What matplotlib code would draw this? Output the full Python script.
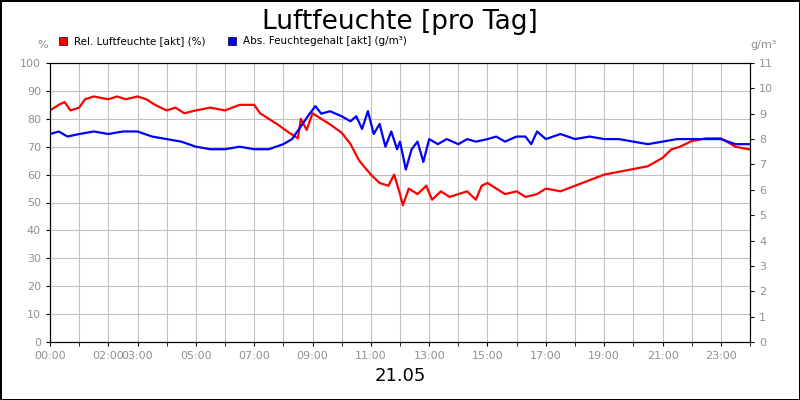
import matplotlib
matplotlib.use('Agg')
import matplotlib.pyplot as plt
from matplotlib.lines import Line2D

# relative Feuchte (%), Zeit in Stunden
rel_t = [0, 0.3, 0.5, 0.7, 1.0, 1.2, 1.5, 2, 2.3, 2.6, 3, 3.3, 3.6, 4, 4.3, 4.6, 5, 5.5, 6, 6.5, 7, 7.2,
         7.5, 7.8, 8.2, 8.5, 8.6, 8.8, 9, 9.3, 9.6, 10, 10.3, 10.6, 11, 11.3, 11.6, 11.8, 12, 12.1, 12.3,
         12.6, 12.9, 13.1, 13.4, 13.7, 14, 14.3, 14.6, 14.8, 15, 15.3, 15.6, 16, 16.3, 16.7, 17, 17.5,
         18, 18.5, 19, 19.5, 20, 20.5, 21, 21.3, 21.6, 22, 22.5, 23, 23.5, 24]
rel_v = [83, 85, 86, 83, 84, 87, 88, 87, 88, 87, 88, 87, 85, 83, 84, 82, 83, 84, 83, 85, 85, 82,
         80, 78, 75, 73, 80, 76, 82, 80, 78, 75, 71, 65, 60, 57, 56, 60, 53, 49, 55,
         53, 56, 51, 54, 52, 53, 54, 51, 56, 57, 55, 53, 54, 52, 53, 55, 54,
         56, 58, 60, 61, 62, 63, 66, 69, 70, 72, 73, 73, 70, 69]

# absoluter Feuchtegehalt (g/m³)
abs_t = [0, 0.3, 0.6, 1, 1.5, 2, 2.5, 3, 3.5, 4, 4.5, 5, 5.5, 6, 6.5, 7, 7.5, 8, 8.3, 8.6, 8.9, 9.1,
         9.3, 9.6, 10, 10.3, 10.5, 10.7, 10.9, 11.1, 11.3, 11.5, 11.7, 11.9, 12, 12.2, 12.4, 12.6, 12.8,
         13, 13.3, 13.6, 14, 14.3, 14.6, 15, 15.3, 15.6, 16, 16.3, 16.5, 16.7, 17, 17.5, 18, 18.5, 19,
         19.5, 20, 20.5, 21, 21.5, 22, 22.5, 23, 23.5, 24]
abs_v = [8.2, 8.3, 8.1, 8.2, 8.3, 8.2, 8.3, 8.3, 8.1, 8.0, 7.9, 7.7, 7.6, 7.6, 7.7, 7.6, 7.6, 7.8, 8.0, 8.5, 9.0, 9.3,
         9.0, 9.1, 8.9, 8.7, 8.9, 8.4, 9.1, 8.2, 8.6, 7.7, 8.3, 7.6, 7.9, 6.8, 7.6, 7.9, 7.1,
         8.0, 7.8, 8.0, 7.8, 8.0, 7.9, 8.0, 8.1, 7.9, 8.1, 8.1, 7.8, 8.3, 8.0, 8.2, 8.0, 8.1, 8.0,
         8.0, 7.9, 7.8, 7.9, 8.0, 8.0, 8.0, 8.0, 7.8, 7.8]

xtick_pos = [0, 2, 3, 5, 7, 9, 11, 13, 15, 17, 19, 21, 23]
xtick_lab = ['00:00', '02:00', '03:00', '05:00', '07:00', '09:00', '11:00', '13:00',
             '15:00', '17:00', '19:00', '21:00', '23:00']

fig = plt.figure(figsize=(8, 4), dpi=100)
fig.patch.set_edgecolor('black')
fig.patch.set_linewidth(2)
ax = fig.add_axes([0.0625, 0.145, 0.875, 0.6975])
ax2 = ax.twinx()

ax.plot(rel_t, rel_v, color='#ff0000', lw=1.6)
ax2.plot(abs_t, abs_v, color='#0000ff', lw=1.6)

ax.set_xlim(0, 24)
ax.set_ylim(0, 100)
ax2.set_ylim(0, 11)
ax.set_yticks(range(0, 101, 10))
ax2.set_yticks(range(0, 12))
ax.set_xticks(range(0, 25), minor=True)
ax.set_xticks(xtick_pos)
ax.set_xticklabels(xtick_lab)
ax.grid(True, which='both', axis='x', color='#c0c0c0', lw=0.8)
ax.grid(True, which='major', axis='y', color='#c0c0c0', lw=0.8)
ax.set_axisbelow(True)
for a in (ax, ax2):
    a.tick_params(labelsize=8, labelcolor='#909090', length=3)
ax.tick_params(axis='x', which='minor', length=3)

fig.text(0.5, 0.945, 'Luftfeuchte [pro Tag]', ha='center', va='center', fontsize=19)
fig.text(0.5, 0.06, '21.05', ha='center', va='center', fontsize=13)
fig.text(0.053, 0.88, '%', fontsize=8, color='#909090', ha='center')
fig.text(0.955, 0.88, 'g/m³', fontsize=8, color='#909090', ha='center')

handles = [Line2D([], [], ls='', marker='s', color='#ff0000', mec='black', mew=0.5, ms=6),
           Line2D([], [], ls='', marker='s', color='#0000ff', mec='black', mew=0.5, ms=6)]
fig.legend(handles, ['Rel. Luftfeuchte [akt] (%)', 'Abs. Feuchtegehalt [akt] (g/m³)'],
           loc='upper left', bbox_to_anchor=(0.06, 0.92), ncol=2, frameon=False,
           fontsize=7.5, handletextpad=0.1, columnspacing=1.5, borderaxespad=0)

fig.savefig('out.png', dpi=100, edgecolor=fig.get_edgecolor())
